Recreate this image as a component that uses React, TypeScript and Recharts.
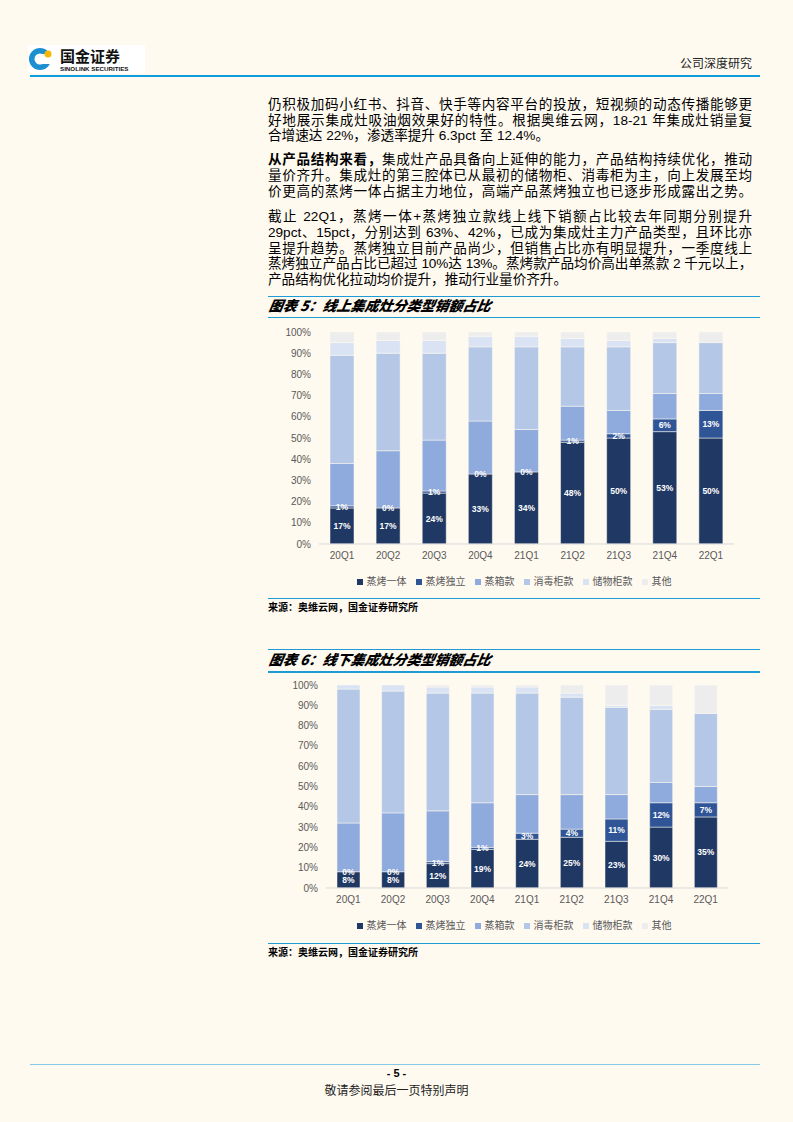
import React from 'react';
import { BarChart, Bar, XAxis, YAxis, Legend, LabelList } from 'recharts';

// ---------- data ----------
const categories = ['20Q1', '20Q2', '20Q3', '20Q4', '21Q1', '21Q2', '21Q3', '21Q4', '22Q1'];
const seriesNames = ['蒸烤一体', '蒸烤独立', '蒸箱款', '消毒柜款', '储物柜款', '其他'];
const yTicks = [0, 10, 20, 30, 40, 50, 60, 70, 80, 90, 100];

// 线上
const onlineZhengKaoYiTi = [17, 17, 24, 33, 34, 48, 50, 53, 50];
const onlineZhengKaoDuLi = [1, 0, 1, 0, 0, 1, 2, 6, 13];
const onlineZhengXiang = [20, 27, 24, 25, 20, 16, 11, 12, 8];
const onlineXiaoDu = [51, 46, 41, 35, 39, 28, 30, 24, 24];
const onlineChuWu = [6, 6, 6, 5, 5, 4, 3, 2, 0];
const onlineQiTa = [5, 4, 4, 2, 2, 3, 4, 3, 5];

// 线下
const offlineZhengKaoYiTi = [8, 8, 12, 19, 24, 25, 23, 30, 35];
const offlineZhengKaoDuLi = [0, 0, 1, 1, 3, 4, 11, 12, 7];
const offlineZhengXiang = [24, 29, 25, 22, 19, 17, 12, 10, 8];
const offlineXiaoDu = [66, 60, 58, 54, 50, 48, 43, 36, 36];
const offlineChuWu = [2, 3, 3, 3, 3, 2, 1, 2, 0];
const offlineQiTa = [0, 0, 1, 1, 1, 4, 10, 10, 14];

const colors = ['#203864', '#2F5597', '#8FAADC', '#B4C7E7', '#DAE3F3', '#EDEDED'];
const keys = ['s0', 's1', 's2', 's3', 's4', 's5'];

const buildRows = (arrs: number[][]) =>
  categories.map((c, i) => {
    const row: any = { name: c };
    arrs.forEach((a, k) => (row[keys[k]] = a[i]));
    return row;
  });

const onlineRows = buildRows([
  onlineZhengKaoYiTi, onlineZhengKaoDuLi, onlineZhengXiang, onlineXiaoDu, onlineChuWu, onlineQiTa,
]);
const offlineRows = buildRows([
  offlineZhengKaoYiTi, offlineZhengKaoDuLi, offlineZhengXiang, offlineXiaoDu, offlineChuWu, offlineQiTa,
]);

// ---------- styles ----------
const BG = '#FFFAF0';
const BLUE = '#1E9BD7';
const LATIN = '"Liberation Sans", Arial, "Noto Sans CJK SC", sans-serif';
const CJK = '"Liberation Sans", "Noto Sans CJK SC", sans-serif';
const LABEL_STYLE = { fill: '#FFFFFF', fontSize: 8.5, fontFamily: LATIN, fontWeight: 600 } as const;

const LegendContent = () => (
  <div
    style={{
      height: 26,
      paddingTop: 10,
      boxSizing: 'border-box',
      display: 'flex',
      justifyContent: 'center',
      fontSize: 10,
      lineHeight: '14px',
      color: '#595959',
      fontFamily: CJK,
    }}
  >
    {seriesNames.map((n, i) => (
      <span key={n} style={{ display: 'inline-flex', alignItems: 'center', marginRight: i < 5 ? 9 : 0 }}>
        <span style={{ width: 6, height: 6, background: colors[i], marginRight: 4, display: 'inline-block' }} />
        {n}
      </span>
    ))}
  </div>
);

// label of the 蒸烤独立 segment, placed from the geometry of the 蒸烤一体 bar below it
const makeDuLiLabel = (rows: any[]) => (props: any) => {
  const { index } = props;
  const vb = props.viewBox || props;
  if (index == null || !rows[index]) return null;
  const v1 = rows[index].s0;
  const v2 = rows[index].s1;
  const { x, y, width, height } = vb;
  const ppu = height / v1;
  const cy = y - (v2 * ppu) / 2;
  return (
    <text x={x + width / 2} y={cy} dy="0.35em" textAnchor="middle" style={LABEL_STYLE as any}>
      {`${v2}%`}
    </text>
  );
};

const StackChart = ({
  rows, width, height, margin, yWidth, barSize,
}: { rows: any[]; width: number; height: number; margin: any; yWidth: number; barSize: number }) => (
  <BarChart width={width} height={height} data={rows} margin={margin}>
    <XAxis
      dataKey="name"
      axisLine={{ stroke: '#D9D9D9' }}
      tickLine={false}
      height={20}
      tick={{ fontSize: 10, fill: '#595959', fontFamily: LATIN }}
      interval={0}
    />
    <YAxis
      domain={[0, 100]}
      ticks={yTicks}
      width={yWidth}
      axisLine={false}
      tickLine={false}
      tickFormatter={(v: number) => `${v}%`}
      tick={{ fontSize: 10, fill: '#595959', fontFamily: LATIN }}
      interval={0}
    />
    <Legend
      verticalAlign="bottom"
      content={<LegendContent />}
      wrapperStyle={{ left: 0, width: width }}
    />
    {keys.map((k, i) => (
      <Bar
        key={k}
        dataKey={k}
        name={seriesNames[i]}
        stackId="a"
        fill={colors[i]}
        stroke={BG}
        strokeWidth={0.5}
        barSize={barSize}
        isAnimationActive={false}
      >
        {i === 0 ? (
          <LabelList
            dataKey="s0"
            position="center"
            formatter={(v: any) => `${v}%`}
            style={LABEL_STYLE as any}
          />
        ) : null}
        {i === 0 ? <LabelList dataKey="s1" content={makeDuLiLabel(rows)} /> : null}
      </Bar>
    ))}
  </BarChart>
);

const abs = (top: number, left: number, extra: React.CSSProperties = {}): React.CSSProperties => ({
  position: 'absolute',
  top,
  left,
  ...extra,
});

const Line = ({ top, left, width, color, h = 1.5 }: any) => (
  <div style={abs(top, left, { width, height: h, background: color })} />
);

const TextLine = ({ top, children, last = false, tight = false }: any) => (
  <div
    style={abs(top, 268, {
      width: 484,
      fontSize: 13.6,
      lineHeight: '16px',
      fontFamily: CJK,
      color: '#000',
      textAlign: 'justify',
      textAlignLast: last ? 'left' : 'justify',
      letterSpacing: tight ? '-0.25px' : undefined,
    } as React.CSSProperties)}
  >
    {children}
  </div>
);

const ChartTitle = ({ top, text }: any) => (
  <div
    style={abs(top, 268, {
      fontSize: 14,
      lineHeight: '16px',
      fontFamily: '"Noto Sans CJK SC", sans-serif',
      fontWeight: 900,
      fontStyle: 'italic',
      transform: 'skewX(-10deg)',
      transformOrigin: 'left bottom',
      color: '#000',
    })}
  >
    {text}
  </div>
);

const Source = ({ top }: any) => (
  <div
    style={abs(top, 268, {
      fontSize: 10,
      lineHeight: '12px',
      fontFamily: '"Noto Sans CJK SC", sans-serif',
      fontWeight: 700,
      color: '#000',
    })}
  >
    来源：奥维云网，国金证券研究所
  </div>
);

export default function App() {
  return (
    <div style={{ position: 'absolute', top: 0, left: 0, width: 793, height: 1122, background: BG, overflow: 'hidden' }}>
      {/* header logo */}
      <div style={abs(45, 28, { width: 117, height: 28, background: '#FFFFFF' })}>
        <svg width={117} height={28} style={{ overflow: 'visible' }}>
          <circle cx={12} cy={14} r={11} fill="#1C8FD0" />
          <circle cx={12} cy={14} r={5.5} fill="#FFFFFF" />
          <rect x={12} y={9} width={12} height={10} fill="#FFFFFF" />
          <circle cx={20} cy={9} r={3.5} fill="#F5B700" />
          <text x={32} y={17} fontSize={15} fontWeight={700} fontFamily='"Noto Sans CJK SC", sans-serif' fill="#111">
            国金证券
          </text>
          <text x={32} y={26} fontSize={6.2} fontWeight={700} fontFamily={LATIN} fill="#111">
            SINOLINK SECURITIES
          </text>
        </svg>
      </div>
      <div
        style={abs(55, 600, {
          width: 152,
          textAlign: 'right',
          fontSize: 12,
          lineHeight: '16px',
          fontFamily: '"Noto Sans CJK SC", sans-serif',
          color: '#222',
        })}
      >
        公司深度研究
      </div>
      <Line top={75} left={30} width={730} color="#0E9EE0" h={2} />

      {/* body text */}
      <TextLine top={97}>仍积极加码小红书、抖音、快手等内容平台的投放，短视频的动态传播能够更</TextLine>
      <TextLine top={113}>好地展示集成灶吸油烟效果好的特性。根据奥维云网，18-21 年集成灶销量复</TextLine>
      <TextLine top={128} last>合增速达 22%，渗透率提升 6.3pct 至 12.4%。</TextLine>

      <TextLine top={152}>
        <b>从产品结构来看，</b>集成灶产品具备向上延伸的能力，产品结构持续优化，推动
      </TextLine>
      <TextLine top={168}>量价齐升。集成灶的第三腔体已从最初的储物柜、消毒柜为主，向上发展至均</TextLine>
      <TextLine top={184}>价更高的蒸烤一体占据主力地位，高端产品蒸烤独立也已逐步形成露出之势。</TextLine>

      <TextLine top={209}>截止 22Q1，蒸烤一体+蒸烤独立款线上线下销额占比较去年同期分别提升</TextLine>
      <TextLine top={225}>29pct、15pct，分别达到 63%、42%，已成为集成灶主力产品类型，且环比亦</TextLine>
      <TextLine top={241}>呈提升趋势。蒸烤独立目前产品尚少，但销售占比亦有明显提升，一季度线上</TextLine>
      <TextLine top={256} tight>蒸烤独立产品占比已超过 10%达 13%。蒸烤款产品均价高出单蒸款 2 千元以上，</TextLine>
      <TextLine top={272} last>产品结构优化拉动均价提升，推动行业量价齐升。</TextLine>

      {/* chart 5 */}
      <Line top={295.5} left={268} width={492} color={BLUE} />
      <ChartTitle top={297} text="图表 5：线上集成灶分类型销额占比" />
      <Line top={316.5} left={268} width={492} color={BLUE} />
      <div style={abs(320, 268)}>
        <StackChart
          rows={onlineRows}
          width={492}
          height={274}
          margin={{ top: 12, right: 26, bottom: 4, left: 0 }}
          yWidth={51}
          barSize={24}
        />
      </div>
      <Line top={597.5} left={268} width={492} color={BLUE} />
      <Source top={601} />

      {/* chart 6 */}
      <Line top={648.5} left={268} width={492} color={BLUE} />
      <ChartTitle top={651} text="图表 6：线下集成灶分类型销额占比" />
      <Line top={671} left={268} width={492} color={BLUE} />
      <div style={abs(673, 268)}>
        <StackChart
          rows={offlineRows}
          width={492}
          height={265}
          margin={{ top: 12, right: 32, bottom: 4, left: 0 }}
          yWidth={58}
          barSize={23}
        />
      </div>
      <Line top={942.5} left={268} width={492} color={BLUE} />
      <Source top={946} />

      {/* footer */}
      <Line top={1063.5} left={30} width={730} color="#86C8EA" h={1.5} />
      <div
        style={abs(1067, 0, {
          width: 793,
          textAlign: 'center',
          fontSize: 11,
          lineHeight: '13px',
          fontWeight: 700,
          fontFamily: LATIN,
          color: '#000',
        })}
      >
        - 5 -
      </div>
      <div
        style={abs(1082, 0, {
          width: 793,
          textAlign: 'center',
          fontSize: 12,
          lineHeight: '16px',
          fontFamily: '"Noto Sans CJK SC", sans-serif',
          color: '#222',
        })}
      >
        敬请参阅最后一页特别声明
      </div>
    </div>
  );
}
